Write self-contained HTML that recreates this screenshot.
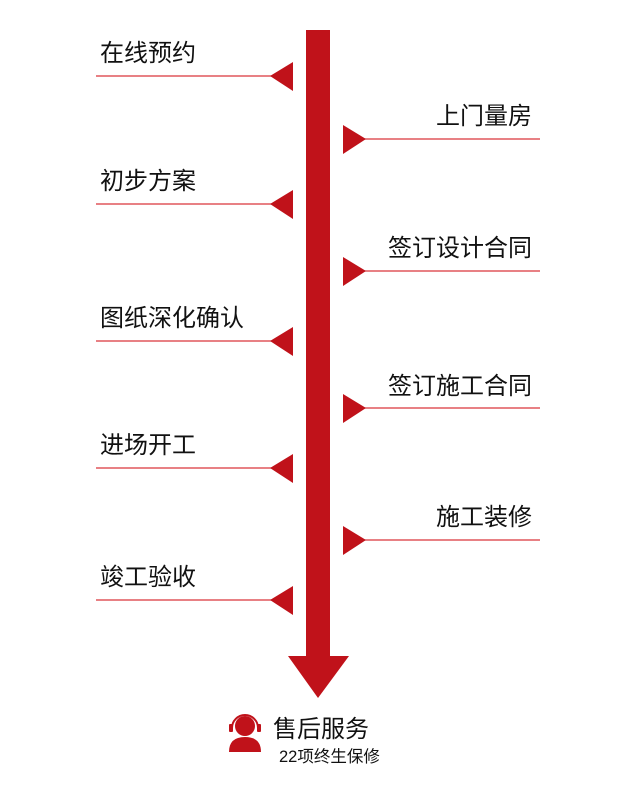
<!DOCTYPE html>
<html><head><meta charset="utf-8"><style>
body{margin:0;width:637px;height:800px;background:#fff;position:relative;overflow:hidden;font-family:"Liberation Sans","Noto Sans CJK SC",sans-serif;color:#111}
.t{position:absolute;font-size:24px;line-height:1;white-space:nowrap}
.l{left:100px}
.r{right:105px}
</style></head><body>
<svg width="637" height="800" style="position:absolute;left:0;top:0">
<g fill="#c0121a">
<rect x="306" y="30" width="24" height="628"/>
<polygon points="288,656 349,656 318,698"/>
</g>
<g stroke="#d9343a" stroke-width="1.3">
<line x1="96" y1="76" x2="272" y2="76"/>
<line x1="96" y1="204" x2="272" y2="204"/>
<line x1="96" y1="341" x2="272" y2="341"/>
<line x1="96" y1="468" x2="272" y2="468"/>
<line x1="96" y1="600" x2="272" y2="600"/>
<line x1="364" y1="139" x2="540" y2="139"/>
<line x1="364" y1="271" x2="540" y2="271"/>
<line x1="364" y1="408" x2="540" y2="408"/>
<line x1="364" y1="540" x2="540" y2="540"/>
</g>
<g fill="#c0121a">
<polygon points="293,62 293,91 270,76"/>
<polygon points="293,190 293,219 270,204"/>
<polygon points="293,327 293,356 270,341"/>
<polygon points="293,454 293,483 270,468"/>
<polygon points="293,586 293,615 270,600"/>
<polygon points="343,125 343,154 366,139"/>
<polygon points="343,257 343,286 366,271"/>
<polygon points="343,394 343,423 366,408"/>
<polygon points="343,526 343,555 366,540"/>
</g>
<g fill="#c0121a">
<circle cx="245" cy="726" r="10"/>
<path d="M229,752 Q229,737 245,737 Q261,737 261,752 Z"/>
<path d="M232,728 A13,13 0 0 1 258,728" fill="none" stroke="#c0121a" stroke-width="2"/>
<rect x="229" y="724" width="4" height="8" rx="1"/>
<rect x="257" y="724" width="4" height="8" rx="1"/>
</g>
</svg>
<div class="t l" style="top:42px">在线预约</div>
<div class="t l" style="top:170px">初步方案</div>
<div class="t l" style="top:307px">图纸深化确认</div>
<div class="t l" style="top:434px">进场开工</div>
<div class="t l" style="top:566px">竣工验收</div>
<div class="t r" style="top:105px">上门量房</div>
<div class="t r" style="top:237px">签订设计合同</div>
<div class="t r" style="top:375px">签订施工合同</div>
<div class="t r" style="top:506px">施工装修</div>
<div class="t" style="left:273px;top:718px;font-size:24px">售后服务</div>
<div class="t" style="left:279px;top:749px;font-size:16.5px">22项终生保修</div>
</body></html>
